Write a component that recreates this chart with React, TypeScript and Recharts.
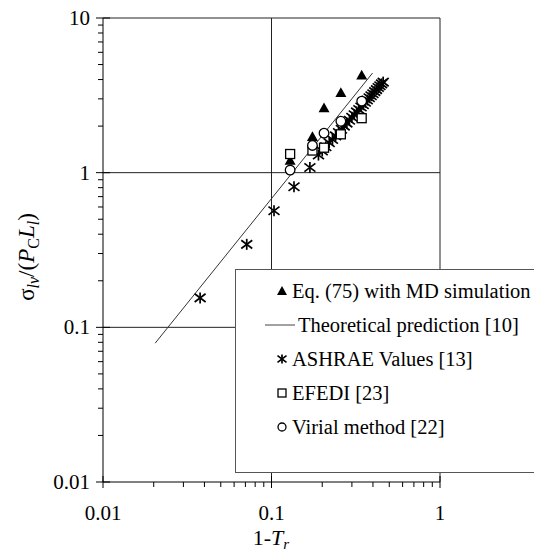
import React from 'react';
import { ScatterChart, Scatter, XAxis, YAxis, ReferenceLine, Legend } from 'recharts';

// 1 - Tr of the simulated state points (MD, EFEDI and virial share them)
const simX = [0.129, 0.175, 0.205, 0.258, 0.343];
const mdY = [1.2, 1.71, 2.62, 3.29, 4.27];
const efediY = [1.32, 1.39, 1.45, 1.77, 2.25];
const virialY = [1.04, 1.5, 1.8, 2.15, 2.9];

const ashraeX = [
  0.0377, 0.0713, 0.1035, 0.136, 0.169, 0.19, 0.2, 0.21, 0.22, 0.23, 0.24, 0.25, 0.26,
  0.27, 0.28, 0.29, 0.3, 0.31, 0.32, 0.33, 0.34, 0.35, 0.36, 0.37, 0.38, 0.39, 0.4,
  0.41, 0.42, 0.43, 0.44, 0.45, 0.46,
];
const ashraeY = [
  0.155, 0.344, 0.567, 0.811, 1.08, 1.3, 1.38, 1.47, 1.56, 1.64, 1.73, 1.82, 1.91,
  2.0, 2.09, 2.18, 2.28, 2.37, 2.47, 2.56, 2.66, 2.75, 2.85, 2.95, 3.05, 3.14, 3.24,
  3.34, 3.44, 3.55, 3.65, 3.75, 3.85,
];

const theoryX = [0.0204, 0.398];
const theoryY = [0.079, 4.41];

const xTicks = [0.01, 0.02, 0.03, 0.04, 0.05, 0.06, 0.07, 0.08, 0.09, 0.1, 0.2, 0.3, 0.4, 0.5, 0.6, 0.7, 0.8, 0.9, 1];
const yTicks = [
  0.01, 0.02, 0.03, 0.04, 0.05, 0.06, 0.07, 0.08, 0.09, 0.1, 0.2, 0.3, 0.4, 0.5, 0.6, 0.7, 0.8, 0.9,
  1, 2, 3, 4, 5, 6, 7, 8, 9, 10,
];
const majorLabels: Record<string, string> = { '0.01': '0.01', '0.1': '0.1', '1': '1', '10': '10' };

const legendLabels = [
  'Eq. (75) with MD simulation',
  'Theoretical prediction [10]',
  'ASHRAE Values [13]',
  'EFEDI [23]',
  'Virial method [22]',
];

const toPoints = (xs: number[], ys: number[]) => xs.map((x, i) => ({ x, y: ys[i] }));

const serif = {
  fontFamily: "'Liberation Serif', 'Times New Roman', Times, Tinos, 'DejaVu Serif', 'Noto Serif', FreeSerif, serif",
};
const W = 534;
const H = 553;

const Tri = ({ cx, cy, s = 5.5 }: any) => (
  <polygon points={`${cx},${cy - s} ${cx - s},${cy + s * 0.8} ${cx + s},${cy + s * 0.8}`} fill="#000" />
);
const Sq = ({ cx, cy, s = 4.5 }: any) => (
  <rect x={cx - s} y={cy - s} width={s * 2} height={s * 2} fill="#fff" stroke="#000" strokeWidth={1.3} />
);
const Circ = ({ cx, cy, r = 4.8 }: any) => (
  <circle cx={cx} cy={cy} r={r} fill="#fff" stroke="#000" strokeWidth={1.3} />
);
const Star = ({ cx, cy, s = 5.5 }: any) => (
  <g stroke="#000" strokeWidth={1.7}>
    <line x1={cx} y1={cy - s} x2={cx} y2={cy + s} />
    <line x1={cx - s} y1={cy - s * 0.75} x2={cx + s} y2={cy + s * 0.75} />
    <line x1={cx - s} y1={cy + s * 0.75} x2={cx + s} y2={cy - s * 0.75} />
  </g>
);

const XTick = (props: any) => {
  const { x, y, payload } = props;
  const label = majorLabels[String(payload.value)];
  return (
    <g>
      <line x1={x} x2={x} y1={label ? y - 6 : y} y2={label ? y + 6 : y + 5} stroke="#000" />
      {label && (
        <text x={x} y={y + 38} textAnchor="middle" style={serif} fontSize={21} fill="#000">
          {label}
        </text>
      )}
    </g>
  );
};

const YTick = (props: any) => {
  const { x, y, payload } = props;
  const label = majorLabels[String(payload.value)];
  return (
    <g>
      <line x1={label ? x - 7 : x - 5} x2={label ? x + 7 : x} y1={y} y2={y} stroke="#000" />
      {label && (
        <text x={x - 13} y={y + 7} textAnchor="end" style={serif} fontSize={21} fill="#000">
          {label}
        </text>
      )}
    </g>
  );
};

const LegendBox = () => (
  <svg width={320} height={205} style={{ display: 'block' }}>
    <rect x={0.5} y={0.5} width={340} height={203} fill="#fff" stroke="#555" />
    {legendLabels.map((name, i) => {
      const cy = 22 + i * 34;
      const cx = 47;
      let mark: React.ReactNode = null;
      if (i === 0) mark = <Tri cx={cx} cy={cy} s={5} />;
      if (i === 1) mark = <line x1={30} x2={60} y1={cy} y2={cy} stroke="#444" strokeWidth={1} />;
      if (i === 2) mark = <Star cx={cx} cy={cy} s={4.5} />;
      if (i === 3) mark = <Sq cx={cx} cy={cy} s={4} />;
      if (i === 4) mark = <Circ cx={cx} cy={cy} r={4} />;
      return (
        <g key={name}>
          {mark}
          <text x={i === 1 ? 63 : 57} y={cy + 7} style={serif} fontSize={20.5} fill="#000">
            {name}
          </text>
        </g>
      );
    })}
  </svg>
);

export default function App() {
  return (
    <div style={{ position: 'absolute', left: 0, top: 0, width: W, height: H, overflow: 'hidden', background: '#fff' }}>
      <ScatterChart width={W} height={H} margin={{ top: 18, right: 94, bottom: 41, left: 43 }}>
        <XAxis
          dataKey="x"
          type="number"
          scale="log"
          domain={[0.01, 1]}
          allowDataOverflow
          ticks={xTicks}
          interval={0}
          tick={<XTick />}
          tickLine={false}
          tickSize={0}
          tickMargin={0}
          height={30}
          axisLine={{ stroke: '#000' }}
        />
        <YAxis
          dataKey="y"
          type="number"
          scale="log"
          domain={[0.01, 10]}
          allowDataOverflow
          ticks={yTicks}
          interval={0}
          tick={<YTick />}
          tickLine={false}
          tickSize={0}
          tickMargin={0}
          width={60}
          axisLine={{ stroke: '#000' }}
        />
        <ReferenceLine x={0.1} stroke="#222" />
        <ReferenceLine x={1} stroke="#222" />
        <ReferenceLine y={0.1} stroke="#222" />
        <ReferenceLine y={1} stroke="#222" />
        <ReferenceLine y={10} stroke="#222" />
        <Scatter
          name="theory"
          data={toPoints(theoryX, theoryY)}
          line={{ stroke: '#333', strokeWidth: 1 }}
          shape={() => <g />}
          isAnimationActive={false}
        />
        <Scatter name="ashrae" data={toPoints(ashraeX, ashraeY)} shape={(p: any) => <Star cx={p.cx} cy={p.cy} />} isAnimationActive={false} />
        <Scatter name="md" data={toPoints(simX, mdY)} shape={(p: any) => <Tri cx={p.cx} cy={p.cy} />} isAnimationActive={false} />
        <Scatter name="efedi" data={toPoints(simX, efediY)} shape={(p: any) => <Sq cx={p.cx} cy={p.cy} />} isAnimationActive={false} />
        <Scatter name="virial" data={toPoints(simX, virialY)} shape={(p: any) => <Circ cx={p.cx} cy={p.cy} />} isAnimationActive={false} />
        <Legend
          layout="horizontal"
          verticalAlign="middle"
          align="center"
          content={() => <LegendBox />}
          wrapperStyle={{ left: 235, top: 269, width: 320, height: 205 }}
        />
        <text x={271} y={545} textAnchor="middle" style={serif} fontSize={22} fill="#000">
          1-<tspan fontStyle="italic">T</tspan>
          <tspan fontStyle="italic" fontSize={15} dy={4}>r</tspan>
        </text>
        <text
          x={34}
          y={257}
          transform="rotate(-90, 34, 257)"
          textAnchor="middle"
          style={serif}
          fontSize={23}
          fill="#000"
        >
          σ<tspan fontSize={16} fontStyle="italic" dy={5}>lv</tspan>
          <tspan dy={-5}>/(</tspan>
          <tspan fontStyle="italic">P</tspan>
          <tspan fontSize={16} dy={5}>C</tspan>
          <tspan fontStyle="italic" dy={-5}>L</tspan>
          <tspan fontSize={16} fontStyle="italic" dy={5}>l</tspan>
          <tspan dy={-5}>)</tspan>
        </text>
      </ScatterChart>
    </div>
  );
}
